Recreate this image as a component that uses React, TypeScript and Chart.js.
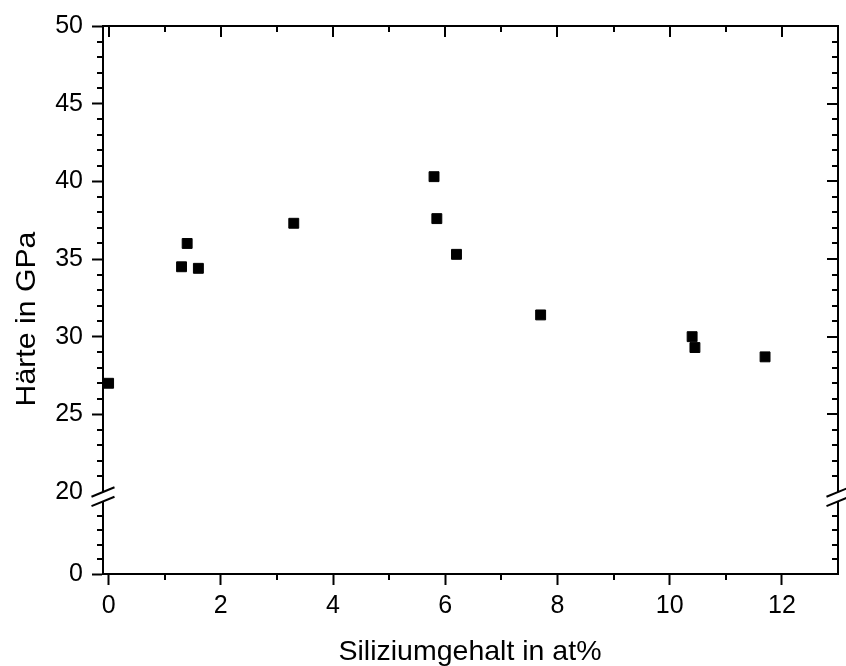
import React, { useEffect, useRef } from 'react';
import { Chart, registerables } from 'chart.js';

Chart.register(...registerables);

// ---- data ----
const siliconContent = [0, 1.3, 1.4, 1.6, 3.3, 5.8, 5.85, 6.2, 7.7, 10.4, 10.45, 11.7];
const hardness = [27.0, 34.5, 36.0, 34.4, 37.3, 40.3, 37.6, 35.3, 31.4, 30.0, 29.3, 28.7];

// ---- tick labels / positions ----
const xTickValues = [0, 2, 4, 6, 8, 10, 12];
const xMinorValues = [1, 3, 5, 7, 9, 11];
const yUpperTickValues = [20, 25, 30, 35, 40, 45, 50];
const yUpperMinorValues = [21, 22, 23, 24, 26, 27, 28, 29, 31, 32, 33, 34, 36, 37, 38, 39, 41, 42, 43, 44, 46, 47, 48, 49];
const yLowerTickValues = [0];
const yLowerMinorValues = [4, 8, 12, 16];
const breakValue = 20;

const xTitle = 'Siliziumgehalt in at%';
const yTitle = 'Härte in GPa';

// ---- styles ----
const FONT = 'Arial, "Liberation Sans", sans-serif';
const MAJOR = 11;
const MINOR = 6;

const framePlugin = {
  id: 'frame',
  afterDraw(chart: any) {
    const { ctx, chartArea: a } = chart;
    const sx = chart.scales.x;
    const sh = chart.scales.yHigh;
    const sl = chart.scales.yLow;
    const L = Math.round(a.left);
    const R = Math.round(a.right);
    const T = Math.round(a.top);
    const B = Math.round(a.bottom);
    ctx.save();
    ctx.strokeStyle = '#000';
    ctx.lineWidth = 2;
    ctx.lineCap = 'butt';
    const seg = (x1: number, y1: number, x2: number, y2: number) => {
      ctx.beginPath();
      ctx.moveTo(x1, y1);
      ctx.lineTo(x2, y2);
      ctx.stroke();
    };
    // top and right frame lines
    seg(L - 1, T, R + 1, T);
    seg(R, T - 1, R, B + 1);

    // x ticks
    xMinorValues.forEach((v) => {
      const px = Math.round(sx.getPixelForValue(v));
      seg(px, B, px, B + MINOR);
      seg(px, T, px, T + MINOR);
    });
    xTickValues.forEach((v) => {
      const px = Math.round(sx.getPixelForValue(v));
      seg(px, T, px, T + MAJOR);
    });
    // y ticks upper
    yUpperMinorValues.forEach((v) => {
      const py = Math.round(sh.getPixelForValue(v));
      seg(L - MINOR, py, L, py);
      seg(R - MINOR, py, R, py);
    });
    yUpperTickValues.filter((v) => v !== breakValue).forEach((v) => {
      const py = Math.round(sh.getPixelForValue(v));
      seg(R - MAJOR, py, R, py);
    });
    // y ticks lower
    yLowerMinorValues.forEach((v) => {
      const py = Math.round(sl.getPixelForValue(v));
      seg(L - MINOR, py, L, py);
      seg(R - MINOR, py, R, py);
    });

    // axis break
    const yTop = sh.getPixelForValue(breakValue);
    const yBot = sl.getPixelForValue(breakValue);
    [L, R].forEach((xx) => {
      ctx.fillStyle = '#fff';
      ctx.fillRect(xx - 2, yTop, 4, yBot - yTop);
      seg(xx - 11.5, yTop + 4.7, xx + 11.5, yTop - 4.7);
      seg(xx - 11.5, yBot + 4.7, xx + 11.5, yBot - 4.7);
    });

    // axis titles
    ctx.fillStyle = '#000';
    ctx.textAlign = 'center';
    ctx.textBaseline = 'alphabetic';
    ctx.font = `28.5px ${FONT}`;
    ctx.fillText(xTitle, 470, 660);
    ctx.save();
    ctx.font = `28px ${FONT}`;
    ctx.translate(35, 319);
    ctx.rotate(-Math.PI / 2);
    ctx.scale(1.08, 1);
    ctx.fillText(yTitle, 0, 0);
    ctx.restore();
    ctx.restore();
  },
};

export default function App() {
  const ref = useRef<HTMLCanvasElement | null>(null);

  useEffect(() => {
    if (!ref.current) return;
    const tickFont = { family: FONT, size: 25 };
    const chart = new Chart(ref.current, {
      type: 'scatter',
      data: {
        datasets: [
          {
            data: siliconContent.map((x, i) => ({ x, y: hardness[i] })),
            xAxisID: 'x',
            yAxisID: 'yHigh',
            pointStyle: 'rect',
            pointRadius: 7,
            pointHoverRadius: 7,
            backgroundColor: '#000',
            borderColor: '#000',
            borderWidth: 1,
          },
        ],
      },
      options: {
        responsive: false,
        animation: false,
        events: [],
        layout: { padding: { top: 26, right: 4, left: 0, bottom: 0 } },
        plugins: { legend: { display: false }, tooltip: { enabled: false } },
        scales: {
          x: {
            type: 'linear',
            position: 'bottom',
            min: -0.1,
            max: 13,
            afterBuildTicks: (s: any) => {
              s.ticks = xTickValues.map((value) => ({ value }));
            },
            afterFit: (s: any) => {
              s.height = 92;
            },
            ticks: {
              autoSkip: false,
              maxRotation: 0,
              padding: 6,
              color: '#000',
              font: tickFont,
              callback: (v: any) => String(v),
            },
            grid: { drawOnChartArea: false, drawTicks: true, tickLength: MAJOR, tickWidth: 2, tickColor: '#000' },
            border: { display: true, color: '#000', width: 2 },
          },
          yLow: {
            type: 'linear',
            position: 'left',
            stack: 'y',
            stackWeight: 82,
            min: 0,
            max: 22.6,
            afterBuildTicks: (s: any) => {
              s.ticks = yLowerTickValues.map((value) => ({ value }));
            },
            afterFit: (s: any) => {
              s.width = 103;
            },
            ticks: { padding: 9, color: '#000', font: tickFont, callback: (v: any) => String(v) },
            grid: { drawOnChartArea: false, drawTicks: true, tickLength: MAJOR, tickWidth: 2, tickColor: '#000' },
            border: { display: true, color: '#000', width: 2 },
          },
          yHigh: {
            type: 'linear',
            position: 'left',
            stack: 'y',
            stackWeight: 466,
            min: 20,
            max: 50,
            afterBuildTicks: (s: any) => {
              s.ticks = yUpperTickValues.map((value) => ({ value }));
            },
            afterFit: (s: any) => {
              s.width = 103;
            },
            ticks: { padding: 9, color: '#000', font: tickFont, callback: (v: any) => String(v) },
            grid: {
              drawOnChartArea: false,
              drawTicks: true,
              tickLength: MAJOR,
              tickWidth: 2,
              tickColor: (c: any) => (c.tick && c.tick.value === breakValue ? 'rgba(0,0,0,0)' : '#000'),
            },
            border: { display: true, color: '#000', width: 2 },
          },
        },
      } as any,
      plugins: [framePlugin],
    });
    return () => chart.destroy();
  }, []);

  return (
    <div style={{ position: 'fixed', left: 0, top: 0, width: 846, height: 666, background: '#fff' }}>
      <canvas ref={ref} width={846} height={666} style={{ width: 846, height: 666, display: 'block' }} />
    </div>
  );
}
